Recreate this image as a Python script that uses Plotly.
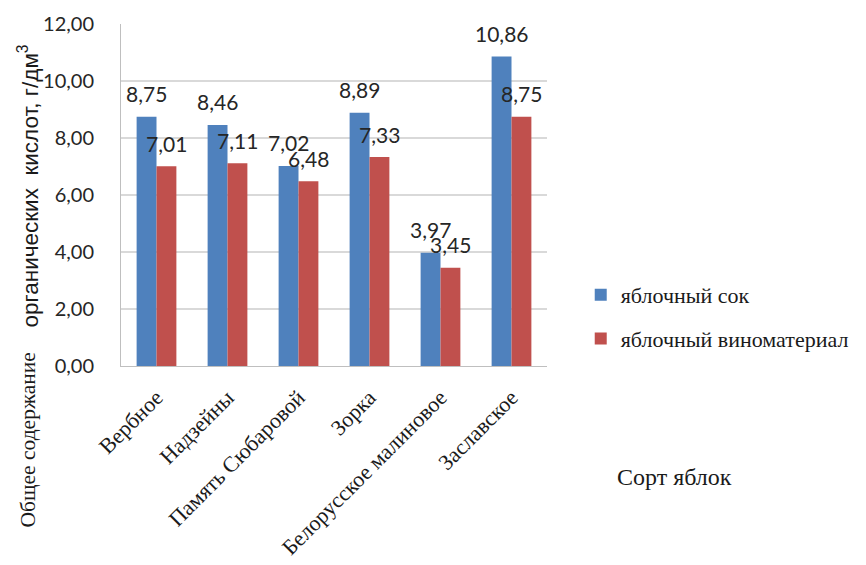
import plotly.graph_objects as go

# Apple varieties and total organic acid content, g/dm3
varieties = ["Вербное", "Надзейны", "Память Сюбаровой", "Зорка",
             "Белорусское малиновое", "Заславское"]
juice = [8.75, 8.46, 7.02, 8.89, 3.97, 10.86]
wine_material = [7.01, 7.11, 6.48, 7.33, 3.45, 8.75]
series_names = ["яблочный сок", "яблочный виноматериал"]
y_ticks = [0, 2, 4, 6, 8, 10, 12]

BLUE = "#4F81BD"
RED = "#C0504D"
SANS = "Lato, Roboto, sans-serif"
ARIAL = "Liberation Sans, Arial, sans-serif"
SERIF = "Times New Roman, Liberation Serif, serif"

W, H = 866, 565
L, R, T, B = 121, 303, 24, 199
PW, PH = W - L - R, H - T - B


def px_to_paper(px, py):
    """Convert a pixel position on the page to plot-area paper coords."""
    return (px - L) / PW, (H - B - py) / PH


BARGAP = 0.44
bar_w = (1 - BARGAP) / 2
xs = list(range(len(varieties)))

fig = go.Figure()
fig.add_trace(go.Bar(x=xs, y=juice, name=series_names[0], legendgroup="a",
                     marker=dict(color=BLUE, line=dict(width=0))))
fig.add_trace(go.Bar(x=xs, y=wine_material, name=series_names[1], legendgroup="b",
                     marker=dict(color=RED, line=dict(width=0))))


def fmt(v):
    return f"{v:.2f}".replace(".", ",")


annotations = []
for series, shift in ((juice, -bar_w / 2), (wine_material, bar_w / 2)):
    for x, v in zip(xs, series):
        annotations.append(dict(
            x=x + shift, y=v, xref="x", yref="y", text=fmt(v),
            showarrow=False, yshift=23, xanchor="center", yanchor="middle",
            font=dict(family=SANS, size=21, color="#262626")))

# x-axis title
tx, ty = px_to_paper(695, 477)
annotations.append(dict(
    x=tx, y=ty, xref="paper", yref="paper", text="Сорт яблок",
    xanchor="center", yanchor="middle",
    showarrow=False, font=dict(family=SERIF, size=24, color="#1a1a1a")))

# y-axis title, set in two faces
ax, ay = px_to_paper(25, 440)
annotations.append(dict(
    x=ax, y=ay, xref="paper", yref="paper", text="Общее содержание",
    textangle=-90, showarrow=False, xanchor="center", yanchor="middle",
    font=dict(family=SERIF, size=21.5, color="#1a1a1a")))
bx, by = px_to_paper(25, 186)
annotations.append(dict(
    x=bx, y=by, xref="paper", yref="paper",
    text="органических  кислот, г/дм<sup>3</sup>",
    textangle=-90, showarrow=False, xanchor="center", yanchor="middle",
    font=dict(family=ARIAL, size=22.5, color="#1a1a1a")))

lx, ly = px_to_paper(598, 317)
fig.update_layout(
    width=W, height=H,
    margin=dict(l=L, r=R, t=T, b=B),
    paper_bgcolor="white", plot_bgcolor="white",
    barmode="group", bargap=BARGAP, bargroupgap=0,
    showlegend=True,
    legend=dict(x=lx, y=ly, xref="paper", yref="paper",
                xanchor="left", yanchor="middle",
                font=dict(family=SERIF, size=22, color="#1a1a1a"),
                tracegroupgap=12, itemwidth=30,
                bgcolor="rgba(0,0,0,0)"),
    xaxis=dict(
        tickmode="array", tickvals=xs, ticktext=varieties,
        range=[-0.5, len(varieties) - 0.5],
        tickangle=-45, ticks="", ticklen=0, ticklabelstandoff=9,
        tickfont=dict(family=SERIF, size=22, color="#1a1a1a"),
        showline=True, linecolor="#BFBFBF", linewidth=1,
        showgrid=False, zeroline=False, automargin=False),
    yaxis=dict(
        range=[0, 12], tickmode="array", tickvals=y_ticks,
        ticktext=[fmt(t) for t in y_ticks],
        tickfont=dict(family=SANS, size=20, color="#262626"),
        ticks="", ticklabelstandoff=22,
        showgrid=True, gridcolor="#D9D9D9", gridwidth=1.5,
        showline=True, linecolor="#BFBFBF", linewidth=1,
        zeroline=False, automargin=False),
    annotations=annotations,
)

fig.write_html("out.html")
